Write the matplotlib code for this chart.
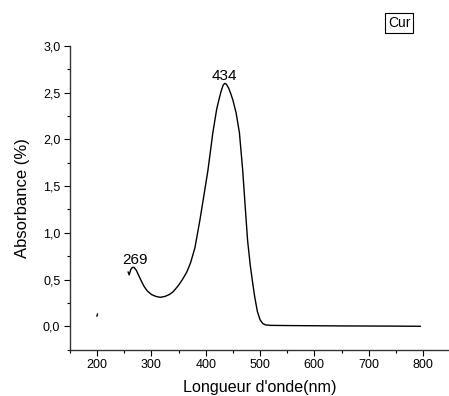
import matplotlib
matplotlib.use('Agg')
import matplotlib.pyplot as plt
from matplotlib.ticker import MultipleLocator, FuncFormatter

plt.rcParams['font.family'] = ['Liberation Sans', 'DejaVu Sans']

# absorbance spectrum
wavelength = [257, 259, 262, 265, 268, 272, 276, 280, 286, 292, 300, 308, 316, 325, 333, 340,
              350, 358, 365, 372, 380, 389, 396, 404, 413, 420, 424, 428, 432, 435, 438, 442,
              446, 450, 456, 462, 468, 473, 477, 482, 486, 490, 495, 500, 505, 510, 520, 550,
              600, 650, 700, 750, 795]
absorbance = [0.58, 0.55, 0.61, 0.63, 0.63, 0.60, 0.55, 0.50, 0.43, 0.38, 0.34, 0.32, 0.31, 0.32,
              0.34, 0.37, 0.44, 0.51, 0.58, 0.68, 0.84, 1.13, 1.38, 1.67, 2.07, 2.32, 2.42, 2.51,
              2.58, 2.60, 2.59, 2.55, 2.49, 2.42, 2.28, 2.07, 1.67, 1.25, 0.92, 0.65, 0.48, 0.32,
              0.16, 0.07, 0.03, 0.015, 0.01, 0.008, 0.006, 0.004, 0.003, 0.002, 0.0]

stray_x = [199.5, 200.5]
stray_y = [0.11, 0.13]

peak_labels = ['434', '269']
peak_x = [434, 269]
peak_y = [2.60, 0.63]

fig = plt.figure(figsize=(4.49, 3.96), dpi=100)
ax = fig.add_axes([0.156, 0.117, 0.844, 0.767])

ax.plot(wavelength, absorbance, color='black', lw=1.0)
ax.plot(stray_x, stray_y, color='black', lw=1.0)

for lab, px, py in zip(peak_labels, peak_x, peak_y):
    ax.annotate(lab, (px, py), xytext=(0, 0), textcoords='offset points',
                ha='center', va='bottom', fontsize=11)

ax.set_xlim(150, 848)
ax.set_ylim(-0.25, 3.0)
ax.xaxis.set_major_locator(MultipleLocator(100))
ax.xaxis.set_minor_locator(MultipleLocator(50))
ax.yaxis.set_major_locator(MultipleLocator(0.5))
ax.yaxis.set_minor_locator(MultipleLocator(0.25))
ax.yaxis.set_major_formatter(FuncFormatter(lambda v, p: '{:.1f}'.format(v).replace('.', ',')))

ax.spines['top'].set_visible(False)
ax.spines['right'].set_visible(False)
for s in ('left', 'bottom'):
    ax.spines[s].set_linewidth(1.0)
    ax.spines[s].set_color('#333333')
ax.tick_params(which='major', direction='out', length=4, width=0.8, labelsize=9, pad=3)
ax.tick_params(which='minor', direction='out', length=2.5, width=0.8)

ax.set_xlabel("Longueur d'onde(nm)", fontsize=11.6, labelpad=6)
ax.set_ylabel('Absorbance (%)', fontsize=12, labelpad=9)

fig.text(0.889, 0.942, 'Cur', ha='center', va='center', fontsize=10,
         bbox=dict(boxstyle='square,pad=0.22', fc='white', ec='black', lw=0.8))

fig.savefig('out.png', dpi=100)
